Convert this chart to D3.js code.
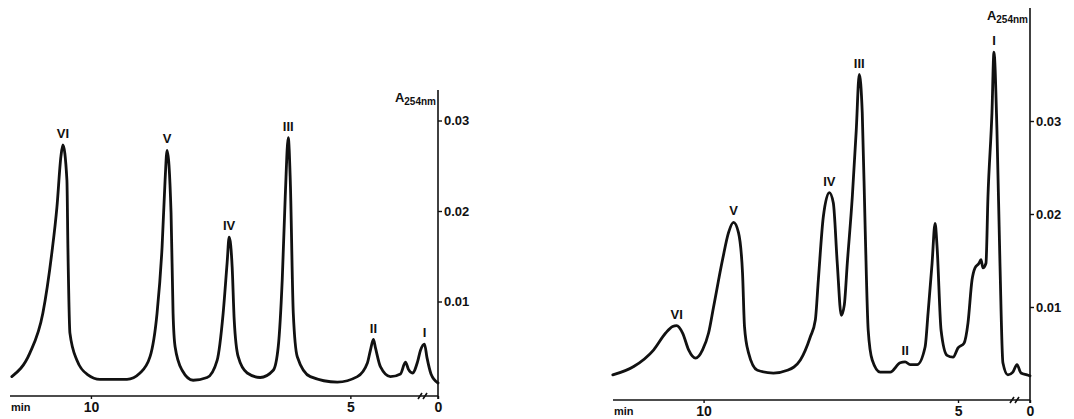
<!DOCTYPE html>
<html>
<head>
<meta charset="utf-8">
<style>
  body { margin: 0; background: #fff; }
  svg#chart { display: block; }
  .trace { fill: none; stroke: #111; stroke-width: 2.8px; stroke-linejoin: round; stroke-linecap: round; }
  .axis-line { stroke: #111; stroke-width: 1.6px; }
  .tick line { stroke: #111; stroke-width: 1.4px; }
  .lbl { font-family: "Liberation Sans", Arial, sans-serif; font-weight: bold; fill: #111; }
</style>
</head>
<body>
<svg id="chart" width="1074" height="419"></svg>

<script src="https://cdn.jsdelivr.net/npm/d3@7"></script>
<script>
// retention time (min) and absorbance
var leftTime = [11.525, 11.178, 10.927, 10.753, 10.656, 10.579, 10.541, 10.463, 10.444, 10.405,
  10.270, 10.058, 9.826, 9.305, 9.054, 8.861, 8.726, 8.629, 8.571, 8.533,
  8.456, 8.417, 8.378, 8.243, 8.031, 7.761, 7.568, 7.452, 7.375, 7.336,
  7.278, 7.239, 7.162, 6.988, 6.737, 6.486, 6.390, 6.313, 6.255, 6.197,
  6.158, 6.100, 6.023, 5.772, 5.251, 4.865, 4.672, 4.614, 4.556, 4.517,
  4.421, 4.228, 4.035, 3.938, 3.880, 3.803, 3.707, 3.649, 0.29, 0.236, 0.15, 0];
var leftAbs = [0.0017, 0.0043, 0.0087, 0.0154, 0.0204, 0.0260, 0.0273, 0.0234, 0.0160, 0.0065,
  0.0035, 0.0019, 0.0014, 0.0014, 0.0021, 0.0039, 0.0087, 0.0160, 0.0234, 0.0267,
  0.0198, 0.0087, 0.0050, 0.0024, 0.0013, 0.0016, 0.0035, 0.0087, 0.0143, 0.0171,
  0.0138, 0.0080, 0.0039, 0.0021, 0.0016, 0.0024, 0.0050, 0.0124, 0.0216, 0.0281,
  0.0234, 0.0087, 0.0039, 0.0017, 0.0011, 0.0017, 0.0032, 0.0046, 0.0058, 0.0049,
  0.0028, 0.0017, 0.0020, 0.0033, 0.0025, 0.0021, 0.0033, 0.0046, 0.0053, 0.0038, 0.0020, 0.0010];

var rightTime = [11.784, 11.373, 10.980, 10.745, 10.608, 10.529, 10.412, 10.294, 10.157, 10.020,
  9.902, 9.804, 9.627, 9.510, 9.412, 9.314, 9.235, 9.196, 9.118, 8.941,
  8.627, 8.353, 8.098, 7.902, 7.804, 7.745, 7.647, 7.529, 7.451, 7.373,
  7.294, 7.235, 7.176, 7.078, 7.000, 6.941, 6.882, 6.824, 6.765, 6.686,
  6.529, 6.333, 6.137, 6.039, 5.941, 5.804, 5.647, 5.588, 5.510, 5.451,
  5.412, 5.333, 5.216, 5.098, 5.000, 4.882, 4.804, 4.725, 4.667, 4.588,
  4.549, 4.510, 4.451, 4.412, 4.333, 4.294, 4.235, 4.176, 4.118, 4.020,
  3.922, 0.279, 0.193, 0.064, 0];
var rightAbs = [0.0027, 0.0036, 0.0054, 0.0072, 0.0079, 0.0080, 0.0072, 0.0054, 0.0045, 0.0054,
  0.0072, 0.0100, 0.0151, 0.0180, 0.0191, 0.0180, 0.0137, 0.0079, 0.0051, 0.0032,
  0.0029, 0.0032, 0.0043, 0.0068, 0.0086, 0.0129, 0.0197, 0.0223, 0.0212, 0.0147,
  0.0091, 0.0102, 0.0147, 0.0218, 0.0290, 0.0350, 0.0309, 0.0183, 0.0075, 0.0043,
  0.0030, 0.0030, 0.0040, 0.0041, 0.0038, 0.0038, 0.0057, 0.0094, 0.0147, 0.0190,
  0.0165, 0.0075, 0.0048, 0.0046, 0.0056, 0.0061, 0.0083, 0.0129, 0.0142, 0.0147,
  0.0151, 0.0142, 0.0147, 0.0218, 0.0309, 0.0374, 0.0290, 0.0147, 0.0040, 0.0027,
  0.0030, 0.0038, 0.0029, 0.0027, 0.0026];

var peakNames = ["VI", "V", "IV", "III", "II", "I"];
var leftPeakTime = [10.541, 8.533, 7.336, 6.197, 4.556, 0.29];
var leftPeakAbs = [0.0273, 0.0267, 0.0171, 0.0281, 0.0058, 0.0053];
var rightPeakTime = [10.529, 9.412, 7.529, 6.941, 6.039, 4.294];
var rightPeakAbs = [0.0080, 0.0191, 0.0223, 0.0350, 0.0041, 0.0374];

var xTicks = [10, 5, 0];
var yTicks = [0.01, 0.02, 0.03];

var svg = d3.select("#chart");

// each panel: time axis broken near the injection point
var panels = [
  { time: leftTime, abs: leftAbs, pkT: leftPeakTime, pkA: leftPeakAbs,
    x: d3.scaleLinear().domain([11.56, 3.6, 0.3, 0]).range([10, 423, 424, 438]),
    y: d3.scaleLinear().domain([0, 0.03]).range([392, 120.5]),
    base: 396, top: 90, brk: 423 },
  { time: rightTime, abs: rightAbs, pkT: rightPeakTime, pkA: rightPeakAbs,
    x: d3.scaleLinear().domain([11.78, 3.9, 0.3, 0]).range([613, 1014, 1016, 1030]),
    y: d3.scaleLinear().domain([0, 0.03]).range([400, 121]),
    base: 400, top: 8, brk: 1015 }
];

panels.forEach(function (p) {
  var x = p.x, y = p.y;
  var x0 = x.range()[0], x1 = x.range()[3];
  var g = svg.append("g");

  // x axis
  var gx = g.append("g")
    .attr("transform", "translate(0," + p.base + ")")
    .call(d3.axisBottom(x).tickValues(xTicks).tickSize(3).tickPadding(3));
  gx.select(".domain").remove();
  gx.selectAll("text").attr("class", "lbl").attr("font-size", 14).attr("font-family", null);
  g.append("line").attr("class", "axis-line")
    .attr("x1", x0).attr("x2", x1).attr("y1", p.base).attr("y2", p.base);

  // axis break marks
  [-3, 2].forEach(function (o) {
    g.append("line").attr("class", "axis-line")
      .attr("x1", p.brk + o - 2).attr("y1", p.base + 3)
      .attr("x2", p.brk + o + 2).attr("y2", p.base - 3);
  });

  g.append("text").attr("class", "lbl")
    .attr("x", x0 + 1).attr("y", p.base + 15)
    .attr("font-size", 11).attr("font-weight", "normal")
    .text("min");

  // y axis on the right
  var gy = g.append("g")
    .attr("transform", "translate(" + x1 + ",0)")
    .call(d3.axisRight(y).tickValues(yTicks).tickSize(4).tickPadding(2).tickFormat(d3.format(".2f")));
  gy.select(".domain").remove();
  gy.selectAll("text").attr("class", "lbl").attr("font-size", 13).attr("font-family", null);
  g.append("line").attr("class", "axis-line")
    .attr("x1", x1).attr("x2", x1).attr("y1", p.top).attr("y2", p.base + 3);

  var unit = g.append("text").attr("class", "lbl")
    .attr("x", x1 - 2).attr("y", p.top + 12)
    .attr("text-anchor", "end").attr("font-size", 13);
  unit.append("tspan").text("A");
  unit.append("tspan").attr("font-size", 10).attr("dy", 3).text("254nm");

  // trace
  var line = d3.line()
    .x(function (d) { return x(d[0]); })
    .y(function (d) { return y(d[1]); })
    .curve(d3.curveMonotoneX);

  g.append("path")
    .datum(d3.zip(p.time, p.abs))
    .attr("class", "trace")
    .attr("d", line);

  // peak labels
  g.selectAll(".peak")
    .data(peakNames)
    .enter().append("text")
    .attr("class", "lbl peak")
    .attr("text-anchor", "middle")
    .attr("font-size", 13)
    .attr("x", function (d, i) { return x(p.pkT[i]); })
    .attr("y", function (d, i) { return y(p.pkA[i]) - 7; })
    .text(function (d) { return d; });
});
</script>
</body>
</html>
